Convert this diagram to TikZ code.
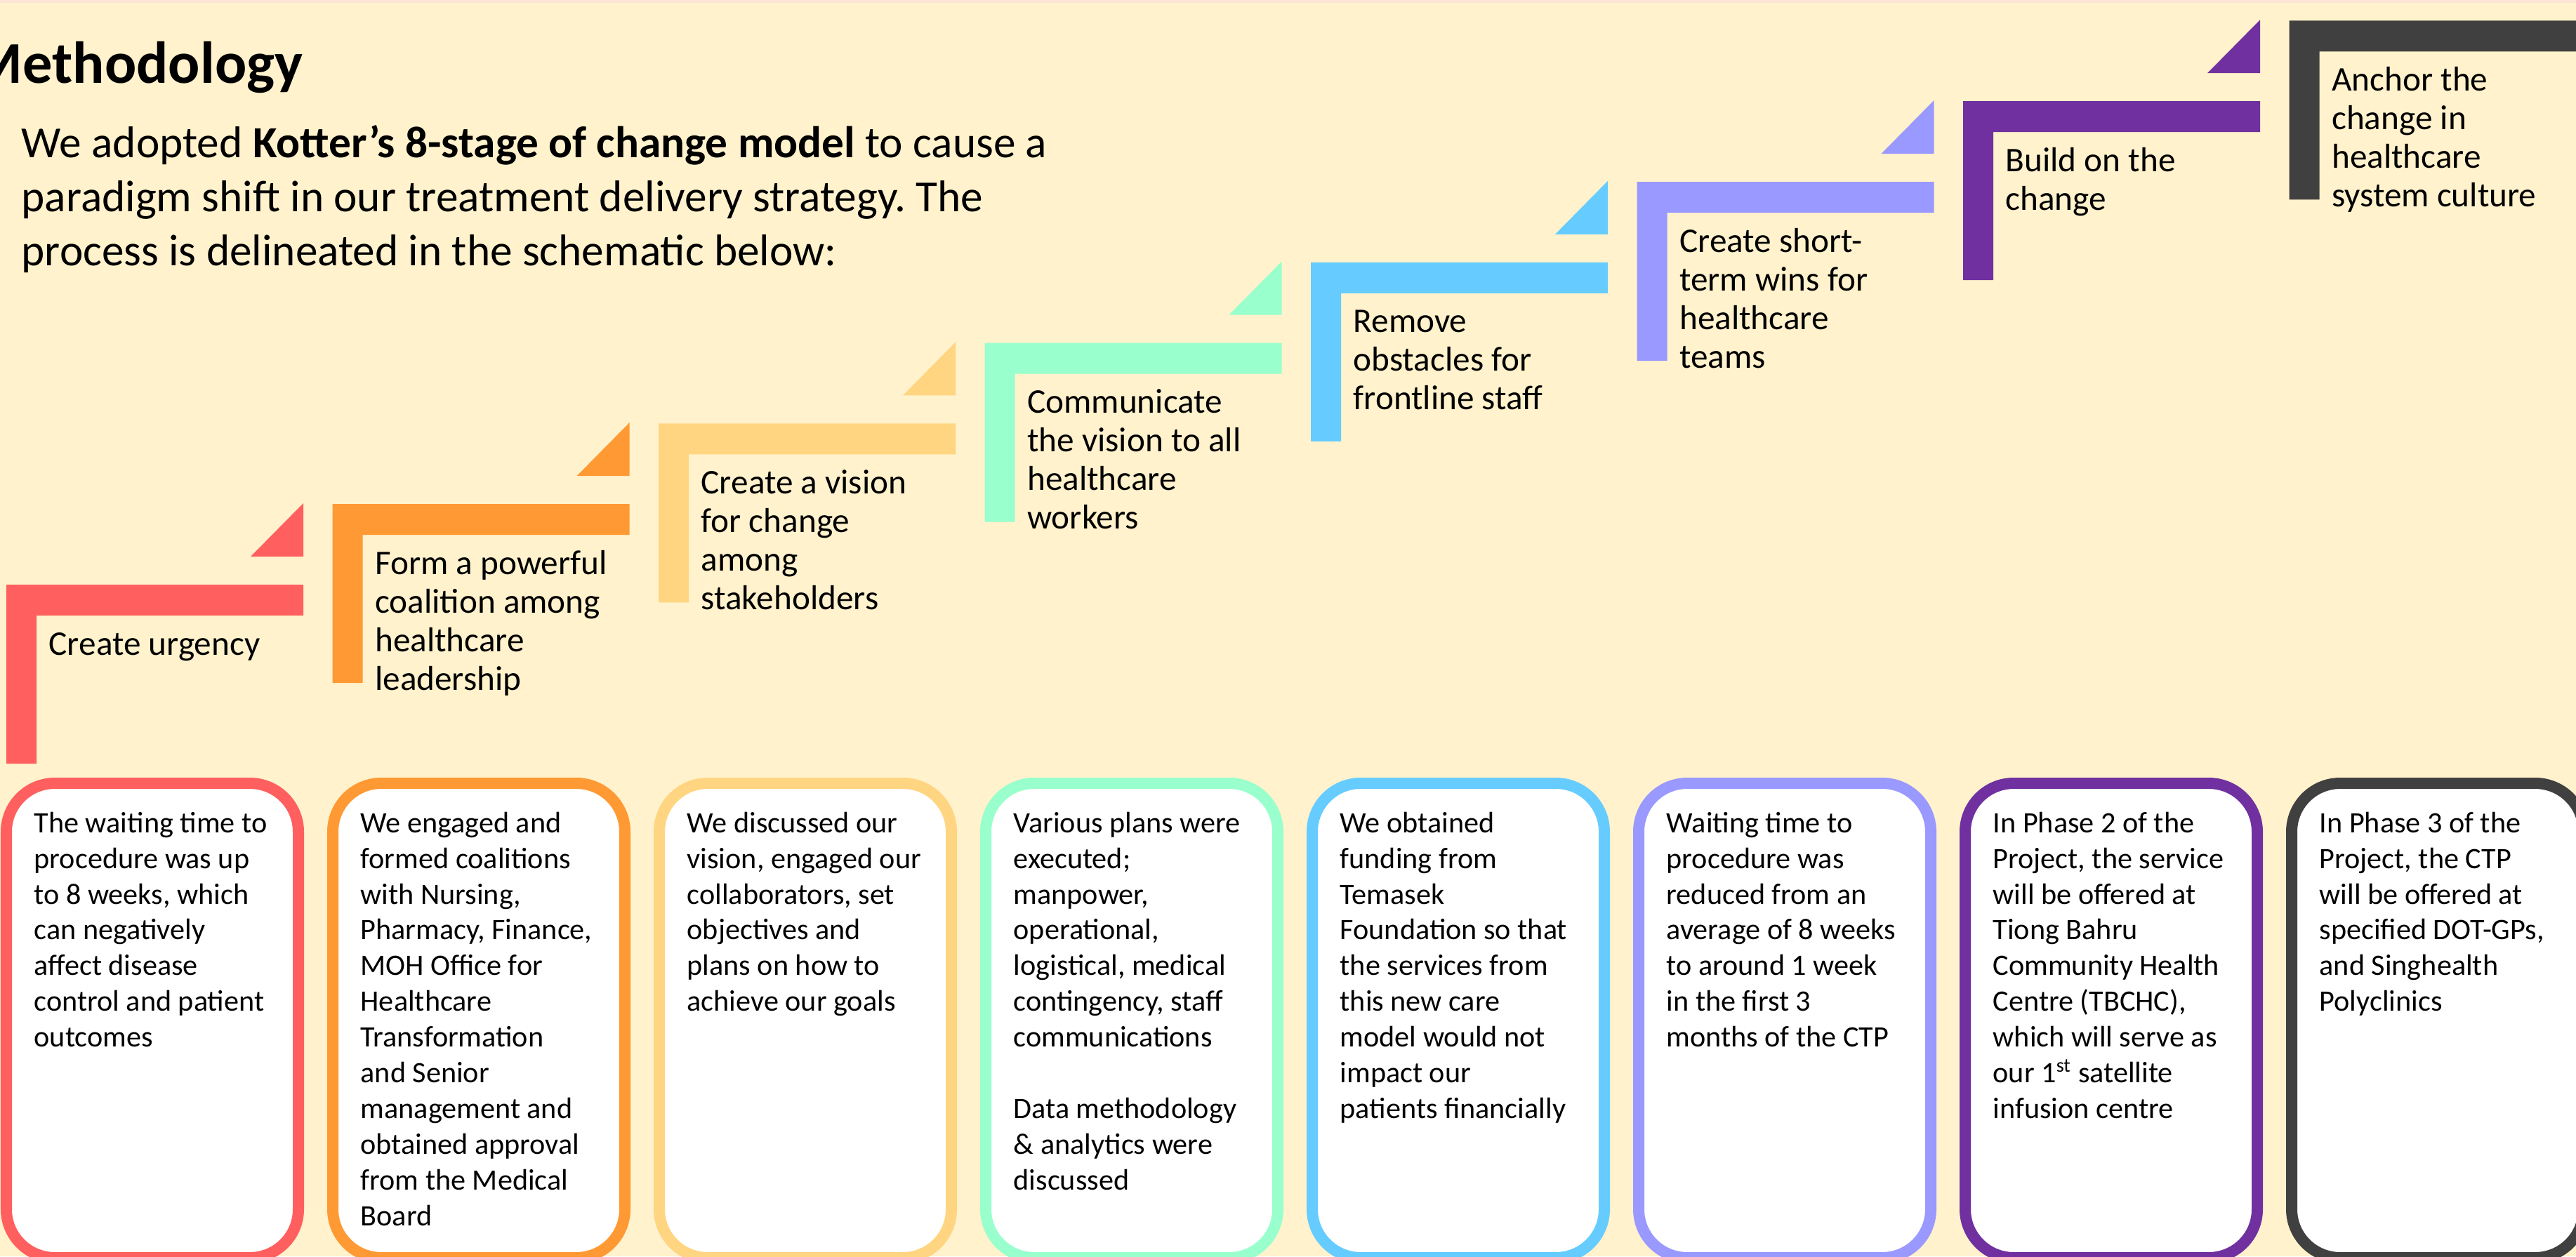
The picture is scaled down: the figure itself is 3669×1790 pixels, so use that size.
\documentclass[tikz,border=0pt]{standalone}
\usepackage{fontspec}
\setmainfont{Carlito}
\frenchspacing

\definecolor{bgcream}{HTML}{FFF2CC}
\definecolor{topband}{HTML}{FCE4D6}
\definecolor{stage1}{HTML}{FF5F5F}
\definecolor{stage2}{HTML}{FF9933}
\definecolor{stage3}{HTML}{FFD581}
\definecolor{stage4}{HTML}{99FFCC}
\definecolor{stage5}{HTML}{66CCFF}
\definecolor{stage6}{HTML}{9999FF}
\definecolor{stage7}{HTML}{7030A0}
\definecolor{stage8}{HTML}{404040}

\begin{document}
\begin{tikzpicture}[
  x=0.01cm, y=-0.01cm,
  headline/.style={anchor=base east, inner sep=0pt, font=\fontsize{24}{29}\selectfont\bfseries},
  introtext/.style={anchor=base west, inner sep=0pt, font=\fontsize{18}{21.9}\selectfont},
  stagelabel/.style={anchor=base west, inner sep=0pt, font=\fontsize{14}{15.65}\selectfont},
  stagedesc/.style={anchor=base west, inner sep=0pt, font=\fontsize{12}{14.5}\selectfont},
  descbox/.style={line width=0.16cm, fill=white, rounded corners=0.69cm}
]
\useasboundingbox (0,0) rectangle (3669,1790);
\clip (0,0) rectangle (3669,1790);

% Background
\fill[bgcream] (0,0) rectangle (3669,1790);
\fill[topband] (0,0) rectangle (3669,4);

% Heading and intro
\node[headline] (title) at (432,118) {Methodology};
\node[introtext] (intro) at (30,224) {\parbox[t]{20cm}{We adopted \textbf{Kotter’s 8-stage of change model} to cause a\\
  paradigm shift in our treatment delivery strategy. The\\
  process is delineated in the schematic below:}};

% Stairs and description boxes
\foreach \i/\lbl/\desc in {
  1/{Create urgency}/{The waiting time to\\procedure was up\\to 8 weeks, which\\can negatively\\affect disease\\control and patient\\outcomes},
  2/{Form a powerful\\coalition among\\healthcare\\leadership}/{We engaged and\\formed coalitions\\with Nursing,\\Pharmacy, Finance,\\MOH Office for\\Healthcare\\Transformation\\and Senior\\management and\\obtained approval\\from the Medical\\Board},
  3/{Create a vision\\for change\\among\\stakeholders}/{We discussed our\\vision, engaged our\\collaborators, set\\objectives and\\plans on how to\\achieve our goals},
  4/{Communicate\\the vision to all\\healthcare\\workers}/{Various plans were\\executed;\\manpower,\\operational,\\logistical, medical\\contingency, staff\\communications\\\mbox{}\\Data methodology\\\& analytics were\\discussed},
  5/{Remove\\obstacles for\\frontline staff}/{We obtained\\funding from\\Temasek\\Foundation so that\\the services from\\this new care\\model would not\\impact our\\patients financially},
  6/{Create short-\\term wins for\\healthcare\\teams}/{Waiting time to\\procedure was\\reduced from an\\average of 8 weeks\\to around 1 week\\in the first 3\\months of the CTP},
  7/{Build on the\\change}/{In Phase 2 of the\\Project, the service\\will be offered at\\Tiong Bahru\\Community Health\\Centre (TBCHC),\\which will serve as\\our 1\textsuperscript{st} satellite\\infusion centre},
  8/{Anchor the\\change in\\healthcare\\system culture}/{In Phase 3 of the\\Project, the CTP\\will be offered at\\specified DOT-GPs,\\and Singhealth\\Polyclinics}
}{
  \pgfmathsetmacro{\sx}{9+464.5*(\i-1)}
  \pgfmathsetmacro{\sy}{833-114.8*(\i-1)}
  \pgfmathsetmacro{\bx}{465*(\i-1)}
  % step bracket
  \fill[stage\i] (\sx,\sy) -- ++(423,0) -- ++(0,44) -- ++(-380,0) -- ++(0,211) -- ++(-43,0) -- cycle;
  % small triangle leading to the next step
  \ifnum\i<8
    \fill[stage\i] (\sx+348,\sy-40) -- (\sx+423,\sy-116) -- (\sx+423,\sy-40) -- cycle;
  \fi
  \node[stagelabel] (stage\i) at (\sx+60,\sy+100) {\parbox[t]{5cm}{\lbl}};
  % description box
  \draw[descbox, draw=stage\i] (\bx+9,1116) rectangle (\bx+425,1792);
  \node[stagedesc] (desc\i) at (\bx+48,1186) {\parbox[t]{5cm}{\desc}};
}
\end{tikzpicture}
\end{document}
